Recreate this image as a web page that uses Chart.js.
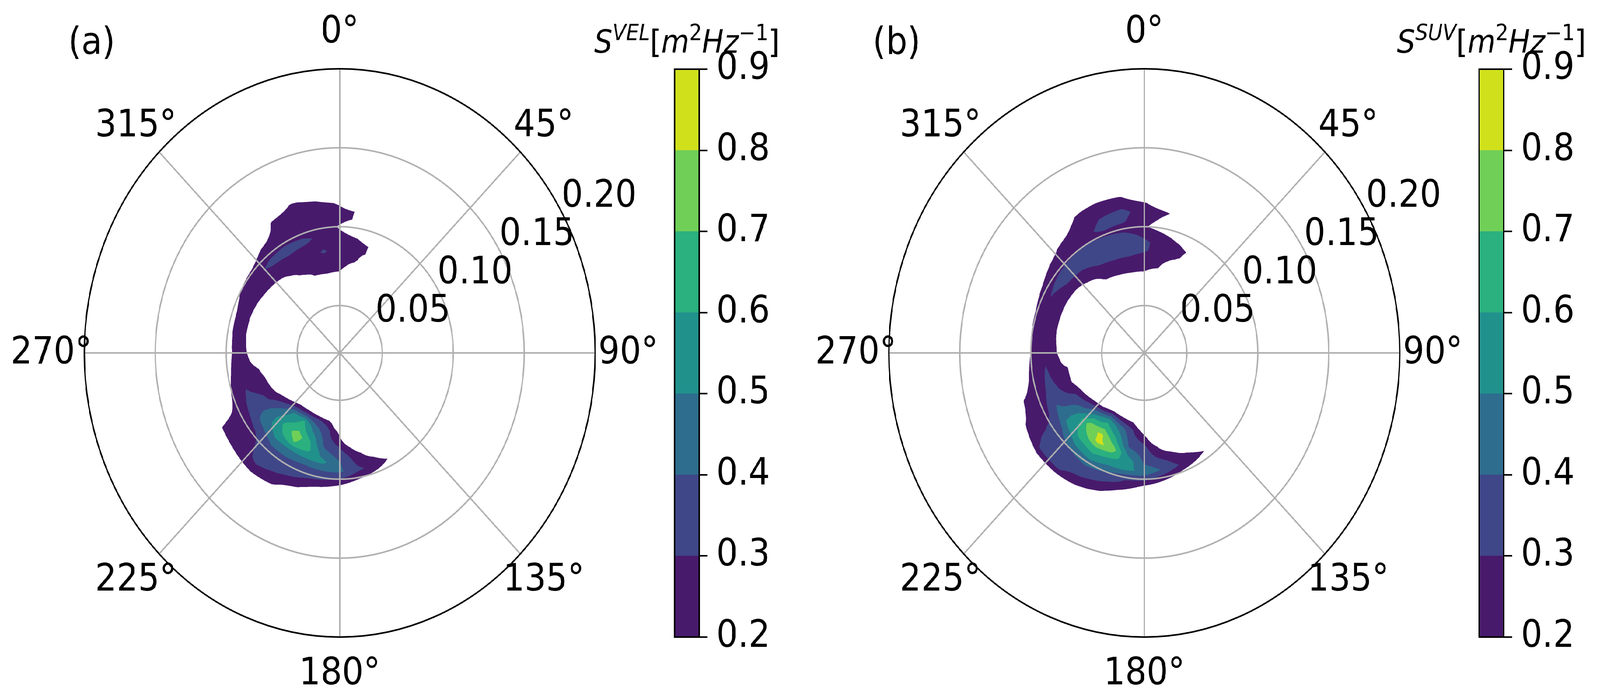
<!DOCTYPE html>
<html>
<head>
<meta charset="utf-8">
<script src="https://cdn.jsdelivr.net/npm/chart.js@4.4.1/dist/chart.umd.min.js"></script>
<style>
  html, body { margin: 0; padding: 0; background: #fff; overflow: hidden; }
  #frame { position: relative; overflow: hidden; background: #fff; }
  #page { position: absolute; left: 0; top: 0; width: 4554px; height: 1791px; background: #fff; transform-origin: 0 0; }
  canvas { position: absolute; top: 0; }
</style>
</head>
<body>
<div id="frame">
  <div id="page">
    <canvas id="polarA" width="1900" height="1791" style="left:0px"></canvas>
    <canvas id="cbarA" width="600" height="1791" style="left:1650px"></canvas>
    <canvas id="polarB" width="1900" height="1791" style="left:2290px"></canvas>
    <canvas id="cbarB" width="600" height="1791" style="left:3940px"></canvas>
  </div>
</div>
<script>
// frequency bins [Hz] (radial axis) and direction bins [deg] (angular axis)
const frequencies = [0.060, 0.065, 0.070, 0.075, 0.080, 0.085, 0.090, 0.095, 0.100, 0.105, 0.110, 0.115, 0.120, 0.125];
const directions = [140, 150, 160, 170, 180, 190, 200, 210, 220, 230, 240, 250, 260, 270, 280, 290, 300, 310, 320, 330, 340, 350, 0, 10, 20, 30, 40];

// contour levels and tick labels
const levels = [0.2, 0.3, 0.4, 0.5, 0.6, 0.7, 0.8, 0.9];
const levelColors = ['#481a6c', '#3f4788', '#2e6d8e', '#21918c', '#2bb07f', '#70cf57', '#d0e11c'];
const colorbarTicks = [0.2, 0.3, 0.4, 0.5, 0.6, 0.7, 0.8, 0.9];
const radialTicks = [0.05, 0.10, 0.15, 0.20];
const rMin = 0.02;
const rMax = 0.20;
const angleLabels = ['0°', '45°', '90°', '135°', '180°', '225°', '270°', '315°'];

// S^VEL, one row per direction, one value per frequency
const spectrumVel = [
  [0, 0, 0, 0, 0, 0, 0, 0.08, 0, 0, 0, 0, 0, 0],
  [0, 0, 0, 0, 0, 0, 0.10, 0.17, 0.12, 0, 0, 0, 0, 0],
  [0, 0, 0, 0, 0, 0.12, 0.20, 0.26, 0.17, 0.08, 0, 0, 0, 0],
  [0, 0, 0, 0, 0.15, 0.24, 0.28, 0.32, 0.22, 0.10, 0, 0, 0, 0],
  [0, 0.05, 0.17, 0.23, 0.30, 0.36, 0.41, 0.42, 0.30, 0.17, 0.05, 0, 0, 0],
  [0.05, 0.26, 0.33, 0.35, 0.38, 0.45, 0.53, 0.41, 0.33, 0.23, 0.10, 0.02, 0, 0],
  [0.08, 0.32, 0.43, 0.52, 0.60, 0.63, 0.52, 0.40, 0.34, 0.29, 0.21, 0.08, 0, 0],
  [0.10, 0.33, 0.61, 0.66, 0.76, 0.70, 0.51, 0.41, 0.36, 0.33, 0.28, 0.22, 0.12, 0],
  [0.10, 0.28, 0.51, 0.57, 0.63, 0.58, 0.51, 0.41, 0.35, 0.33, 0.32, 0.27, 0.15, 0],
  [0.02, 0.17, 0.31, 0.41, 0.46, 0.47, 0.43, 0.32, 0.28, 0.27, 0.26, 0.23, 0.14, 0],
  [0, 0.08, 0.19, 0.26, 0.32, 0.35, 0.35, 0.29, 0.26, 0.24, 0.23, 0.21, 0.10, 0],
  [0, 0, 0.12, 0.22, 0.26, 0.28, 0.305, 0.26, 0.22, 0.13, 0.05, 0, 0, 0],
  [0, 0, 0.05, 0.17, 0.22, 0.25, 0.26, 0.24, 0.17, 0.05, 0, 0, 0, 0],
  [0, 0, 0, 0, 0.10, 0.195, 0.26, 0.22, 0.12, 0, 0, 0, 0, 0],
  [0, 0, 0, 0, 0.05, 0.17, 0.25, 0.23, 0.14, 0, 0, 0, 0, 0],
  [0, 0, 0, 0, 0.05, 0.17, 0.25, 0.235, 0.15, 0, 0, 0, 0, 0],
  [0, 0, 0, 0, 0.08, 0.19, 0.26, 0.27, 0.205, 0.10, 0, 0, 0, 0],
  [0, 0, 0, 0, 0.12, 0.22, 0.27, 0.28, 0.23, 0.12, 0, 0, 0, 0],
  [0, 0, 0, 0.05, 0.17, 0.24, 0.28, 0.32, 0.27, 0.22, 0.12, 0, 0, 0],
  [0, 0, 0.05, 0.18, 0.24, 0.26, 0.29, 0.33, 0.28, 0.25, 0.24, 0.22, 0.12, 0],
  [0, 0.05, 0.18, 0.23, 0.25, 0.26, 0.28, 0.32, 0.27, 0.26, 0.25, 0.24, 0.21, 0.10],
  [0, 0.05, 0.19, 0.24, 0.26, 0.31, 0.28, 0.28, 0.25, 0.25, 0.24, 0.23, 0.17, 0.05],
  [0, 0.05, 0.18, 0.24, 0.26, 0.26, 0.25, 0.22, 0.19, 0.23, 0.22, 0.19, 0.08, 0],
  [0, 0, 0.05, 0.15, 0.23, 0.25, 0.24, 0.18, 0.12, 0.18, 0.19, 0.10, 0, 0],
  [0, 0, 0, 0, 0.08, 0.17, 0.18, 0.08, 0, 0, 0.05, 0, 0, 0],
  [0, 0, 0, 0, 0, 0, 0, 0, 0, 0, 0, 0, 0, 0],
  [0, 0, 0, 0, 0, 0, 0, 0, 0, 0, 0, 0, 0, 0]
];

// S^SUV, same layout
const spectrumSuv = [
  [0, 0, 0, 0, 0, 0, 0.08, 0.16, 0.05, 0, 0, 0, 0, 0],
  [0, 0, 0, 0, 0, 0.05, 0.17, 0.23, 0.14, 0, 0, 0, 0, 0],
  [0, 0, 0, 0, 0.05, 0.17, 0.24, 0.29, 0.18, 0.07, 0, 0, 0, 0],
  [0, 0, 0, 0.05, 0.18, 0.25, 0.33, 0.39, 0.25, 0.12, 0, 0, 0, 0],
  [0, 0.05, 0.16, 0.26, 0.33, 0.36, 0.39, 0.48, 0.33, 0.17, 0.05, 0, 0, 0],
  [0.05, 0.21, 0.32, 0.35, 0.38, 0.48, 0.57, 0.52, 0.32, 0.27, 0.15, 0.03, 0, 0],
  [0.08, 0.26, 0.45, 0.55, 0.64, 0.76, 0.62, 0.51, 0.405, 0.32, 0.26, 0.16, 0, 0],
  [0.05, 0.33, 0.58, 0.68, 0.82, 0.83, 0.66, 0.57, 0.44, 0.36, 0.305, 0.24, 0.12, 0],
  [0.05, 0.21, 0.45, 0.62, 0.76, 0.68, 0.62, 0.52, 0.405, 0.35, 0.33, 0.31, 0.15, 0],
  [0.02, 0.15, 0.31, 0.41, 0.51, 0.54, 0.52, 0.405, 0.35, 0.34, 0.33, 0.31, 0.17, 0],
  [0, 0.06, 0.21, 0.32, 0.35, 0.38, 0.42, 0.32, 0.28, 0.26, 0.25, 0.22, 0.10, 0],
  [0, 0.02, 0.14, 0.21, 0.25, 0.305, 0.33, 0.29, 0.26, 0.24, 0.21, 0.10, 0, 0],
  [0, 0, 0.08, 0.21, 0.24, 0.27, 0.31, 0.27, 0.24, 0.16, 0.05, 0, 0, 0],
  [0, 0, 0, 0.06, 0.18, 0.25, 0.28, 0.27, 0.205, 0.10, 0, 0, 0, 0],
  [0, 0, 0, 0.04, 0.15, 0.23, 0.27, 0.27, 0.21, 0.12, 0, 0, 0, 0],
  [0, 0, 0, 0, 0.14, 0.23, 0.27, 0.28, 0.22, 0.13, 0, 0, 0, 0],
  [0, 0, 0, 0, 0.14, 0.23, 0.27, 0.305, 0.26, 0.17, 0.05, 0, 0, 0],
  [0, 0, 0, 0.04, 0.16, 0.24, 0.305, 0.34, 0.28, 0.23, 0.15, 0.03, 0, 0],
  [0, 0, 0, 0.12, 0.21, 0.26, 0.32, 0.36, 0.29, 0.25, 0.22, 0.12, 0, 0],
  [0, 0.03, 0.14, 0.22, 0.26, 0.31, 0.36, 0.37, 0.295, 0.28, 0.26, 0.24, 0.19, 0.06],
  [0, 0.04, 0.17, 0.23, 0.27, 0.33, 0.37, 0.36, 0.28, 0.32, 0.305, 0.26, 0.22, 0.10],
  [0, 0.04, 0.18, 0.24, 0.28, 0.33, 0.36, 0.33, 0.27, 0.31, 0.33, 0.27, 0.21, 0.08],
  [0, 0.04, 0.18, 0.24, 0.27, 0.31, 0.32, 0.28, 0.21, 0.24, 0.25, 0.21, 0.09, 0],
  [0, 0.02, 0.12, 0.21, 0.25, 0.27, 0.26, 0.23, 0.15, 0.18, 0.21, 0.12, 0, 0],
  [0, 0, 0, 0.06, 0.16, 0.23, 0.24, 0.17, 0.08, 0.08, 0.15, 0.05, 0, 0],
  [0, 0, 0, 0, 0, 0.12, 0.16, 0.08, 0, 0, 0, 0, 0, 0],
  [0, 0, 0, 0, 0, 0, 0, 0, 0, 0, 0, 0, 0, 0]
];

// colorbar titles, mathtext style: S^{VEL}[m^2 Hz^{-1}]
const titleVel = [
  { t: 'S', it: true }, { t: 'VEL', it: true, sup: true }, { t: '[' }, { t: 'm', it: true },
  { t: '2', sup: true }, { t: 'Hz', it: true }, { t: '\u22121', sup: true }, { t: ']' }
];
const titleSuv = [
  { t: 'S', it: true }, { t: 'SUV', it: true, sup: true }, { t: '[' }, { t: 'm', it: true },
  { t: '2', sup: true }, { t: 'Hz', it: true }, { t: '\u22121', sup: true }, { t: ']' }
];

const FONT = '"DejaVu Sans", "Liberation Sans", sans-serif';
const GRID_GREY = '#b0b0b0';

// the page is laid out in picture pixels; map that frame onto the whole viewport
const frame = document.getElementById('frame');
const page = document.getElementById('page');
const vw = window.innerWidth || 4554, vh = window.innerHeight || 1791;
page.style.transform = 'scale(' + (vw / 4554) + ',' + (vh / 1791) + ')';
frame.style.width = vw + 'px';
frame.style.height = vh + 'px';

function hexToRgb(h) {
  const n = parseInt(h.slice(1), 16);
  return [(n >> 16) & 255, (n >> 8) & 255, n & 255];
}

// raster the filled contours of a (direction x frequency) grid through the radial scale
function renderContour(scale, grid) {
  const R = scale.drawingArea, xc = scale.xCenter, yc = scale.yCenter;
  const x0 = Math.floor(xc - R) - 1, y0 = Math.floor(yc - R) - 1;
  const size = Math.ceil(2 * R) + 3;
  const off = document.createElement('canvas');
  off.width = size;
  off.height = size;
  const octx = off.getContext('2d');
  const img = octx.createImageData(size, size);
  const rgb = levelColors.map(hexToRgb);

  const dirs = directions.map((d, i) => (i > 0 && d < directions[0] ? d + 360 : d));
  const d0 = dirs[0], dStep = dirs[1] - dirs[0], nd = dirs.length;
  const f0 = frequencies[0], fStep = frequencies[1] - frequencies[0], nf = frequencies.length;
  const flat = new Float64Array(nd * nf);
  grid.forEach((row, i) => row.forEach((v, j) => { flat[i * nf + j] = v; }));

  const toValue = scale.getValueForDistanceFromCenter
    ? d => scale.getValueForDistanceFromCenter(d)
    : d => scale.min + d * (scale.max - scale.min) / R;
  const sub = [0.25, 0.75];
  const nLev = levelColors.length;

  for (let py = 0; py < size; py++) {
    for (let px = 0; px < size; px++) {
      let r = 0, g = 0, b = 0, a = 0;
      for (const sy of sub) {
        for (const sx of sub) {
          const dx = x0 + px + sx - xc, dy = y0 + py + sy - yc;
          const dist = Math.sqrt(dx * dx + dy * dy);
          if (dist > R) continue;
          const f = toValue(dist);
          let th = Math.atan2(dx, -dy) * 180 / Math.PI;
          if (th < 0) th += 360;
          if (th < d0) th += 360;
          const cu = (th - d0) / dStep, ci = Math.floor(cu);
          if (ci < 0 || ci >= nd - 1) continue;
          const fu = (f - f0) / fStep, fi = Math.floor(fu);
          if (fi < 0 || fi >= nf - 1) continue;
          const tu = cu - ci, tv = fu - fi;
          const v = (1 - tu) * ((1 - tv) * flat[ci * nf + fi] + tv * flat[ci * nf + fi + 1]) +
                    tu * ((1 - tv) * flat[(ci + 1) * nf + fi] + tv * flat[(ci + 1) * nf + fi + 1]);
          if (v < levels[0]) continue;
          let k = 0;
          while (k < nLev - 1 && v >= levels[k + 1]) k++;
          r += rgb[k][0]; g += rgb[k][1]; b += rgb[k][2]; a++;
        }
      }
      if (a) {
        const idx = (py * size + px) * 4;
        img.data[idx] = r / a;
        img.data[idx + 1] = g / a;
        img.data[idx + 2] = b / a;
        img.data[idx + 3] = Math.round(255 * a / 4);
      }
    }
  }
  octx.putImageData(img, 0, 0);
  return { canvas: off, x: x0, y: y0 };
}

function contourPlugin(grid) {
  let cache = null;
  return {
    id: 'contourFill',
    beforeDraw(chart) {
      const s = chart.scales.r;
      if (!cache) cache = renderContour(s, grid);
      chart.ctx.drawImage(cache.canvas, cache.x, cache.y);
    }
  };
}

function polarDecor(tag) {
  return {
    id: 'polarDecor',
    afterDraw(chart) {
      const s = chart.scales.r, ctx = chart.ctx, ca = chart.chartArea;
      ctx.save();
      // outer spine
      ctx.strokeStyle = '#000';
      ctx.lineWidth = 4;
      ctx.beginPath();
      ctx.arc(s.xCenter, s.yCenter, s.drawingArea, 0, 2 * Math.PI);
      ctx.stroke();

      ctx.fillStyle = '#000';
      ctx.font = '96px ' + FONT;
      ctx.textAlign = 'center';
      ctx.textBaseline = 'alphabetic';
      // direction labels
      angleLabels.forEach((lab, i) => {
        const p = s.getPointPosition(i, s.drawingArea + 94);
        ctx.fillText(lab, p.x, p.y - 8 + 35);
      });
      // frequency labels, along 61 deg
      const ang = (61 - 90) * Math.PI / 180;
      radialTicks.forEach(v => {
        const d = s.getDistanceFromCenterForValue(v) + 117;
        ctx.fillText(v.toFixed(2), s.xCenter + Math.cos(ang) * d, s.yCenter + Math.sin(ang) * d + 35);
      });
      // panel tag
      ctx.textAlign = 'left';
      ctx.fillText(tag, ca.left - 46, ca.top - 38);
      ctx.restore();
    }
  };
}

function drawMathLabel(ctx, parts, cx, baseline) {
  const base = 82, sup = 57, raise = 32;
  const fontFor = p => (p.it ? 'italic ' : '') + (p.sup ? sup : base) + 'px ' + FONT;
  const widths = parts.map(p => { ctx.font = fontFor(p); return ctx.measureText(p.t).width; });
  const total = widths.reduce((a, b) => a + b, 0);
  let x = cx - total / 2;
  ctx.textAlign = 'left';
  ctx.textBaseline = 'alphabetic';
  ctx.fillStyle = '#000';
  parts.forEach((p, i) => {
    ctx.font = fontFor(p);
    ctx.fillText(p.t, x, baseline - (p.sup ? raise : 0));
    x += widths[i];
  });
}

function cbarFrame(title) {
  return {
    id: 'cbarFrame',
    afterDraw(chart) {
      const { ctx, chartArea: ca } = chart;
      ctx.save();
      ctx.strokeStyle = '#000';
      ctx.lineWidth = 4;
      ctx.strokeRect(ca.left, ca.top, ca.right - ca.left, ca.bottom - ca.top);
      drawMathLabel(ctx, title, (ca.left + ca.right) / 2, ca.top - 42);
      ctx.restore();
    }
  };
}

function makePolar(id, grid, tag) {
  return new Chart(document.getElementById(id), {
    type: 'radar',
    data: { labels: angleLabels, datasets: [] },
    options: {
      responsive: false,
      animation: false,
      devicePixelRatio: 1,
      events: [],
      layout: { padding: { left: 240, right: 206, top: 176, bottom: 161 } },
      plugins: { legend: { display: false }, tooltip: { enabled: false } },
      scales: {
        r: {
          min: rMin,
          max: rMax,
          startAngle: 0,
          afterBuildTicks: s => { s.ticks = [rMin].concat(radialTicks).map(v => ({ value: v })); },
          afterFit: s => {
            s.xCenter = (s.left + s.right) / 2;
            s.yCenter = (s.top + s.bottom) / 2;
            s.drawingArea = Math.min(s.right - s.left, s.bottom - s.top) / 2;
          },
          ticks: { display: false },
          pointLabels: { display: false },
          grid: { circular: true, color: GRID_GREY, lineWidth: 4 },
          angleLines: { display: true, color: GRID_GREY, lineWidth: 4 }
        }
      }
    },
    plugins: [contourPlugin(grid), polarDecor(tag)]
  });
}

function makeColorbar(id, title) {
  return new Chart(document.getElementById(id), {
    type: 'bar',
    data: {
      labels: [''],
      datasets: levelColors.map((c, i) => ({
        data: [[levels[i], levels[i + 1]]],
        backgroundColor: c,
        borderWidth: 0,
        grouped: false,
        barPercentage: 1,
        categoryPercentage: 1
      }))
    },
    options: {
      responsive: false,
      animation: false,
      devicePixelRatio: 1,
      events: [],
      layout: { padding: { left: 270, right: 0, top: 177, bottom: 161 } },
      plugins: { legend: { display: false }, tooltip: { enabled: false } },
      scales: {
        x: { display: false },
        y: {
          position: 'right',
          min: levels[0],
          max: levels[levels.length - 1],
          afterBuildTicks: s => { s.ticks = colorbarTicks.map(v => ({ value: v })); },
          afterFit: s => { s.width = 260; },
          ticks: {
            color: '#000',
            font: { family: FONT, size: 96 },
            padding: 25,
            callback: v => Number(v).toFixed(1)
          },
          grid: { drawOnChartArea: false, drawTicks: true, tickLength: 24, color: '#000', lineWidth: 4 },
          border: { display: false }
        }
      }
    },
    plugins: [cbarFrame(title)]
  });
}

makePolar('polarA', spectrumVel, '(a)');
makeColorbar('cbarA', titleVel);
makePolar('polarB', spectrumSuv, '(b)');
makeColorbar('cbarB', titleSuv);
</script>
</body>
</html>
